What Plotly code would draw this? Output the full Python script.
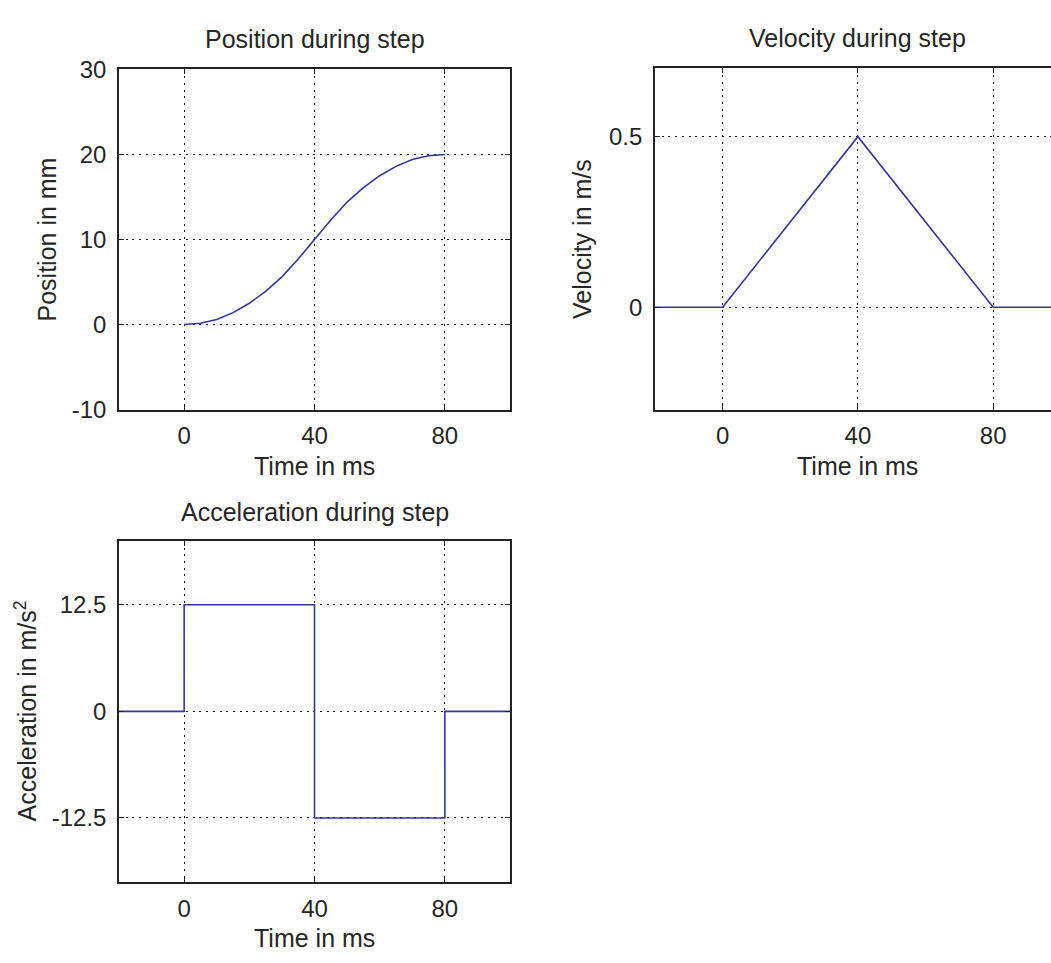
import plotly.graph_objects as go

# ---- data ----
pos_t = [0, 5, 10, 15, 20, 25, 30, 35, 40, 45, 50, 55, 60, 65, 70, 75, 80]
pos_mm = [0, 0.15, 0.6, 1.4, 2.5, 3.9, 5.6, 7.7, 10, 12.3, 14.4, 16.1, 17.5, 18.6, 19.4, 19.85, 20]

vel_t = [-20, 0, 40, 80, 100]
vel_ms = [0, 0, 0.5, 0, 0]

acc_t = [-20, 0, 0, 40, 40, 80, 80, 100]
acc_ms2 = [0, 0, 12.5, 12.5, -12.5, -12.5, 0, 0]

x_ticks = [0, 40, 80]
pos_yticks = [-10, 0, 10, 20, 30]
pos_ylabels = ["-10", "0", "10", "20", "30"]
vel_yticks = [0, 0.5]
vel_ylabels = ["0", "0.5"]
acc_yticks = [-12.5, 0, 12.5]
acc_ylabels = ["-12.5", "0", "12.5"]

LINE = "#36369e"
TXT = "#262626"
FONT = "Liberation Sans, Arial, sans-serif"
W, H = 1051, 963

def px_x(a, b):
    return [a / W, min(b / W, 1.0)]

def px_y(top, bottom):
    return [1 - bottom / H, 1 - top / H]

fig = go.Figure()
fig.add_trace(go.Scatter(x=pos_t, y=pos_mm, mode="lines", line=dict(color=LINE, width=1.6),
                         xaxis="x", yaxis="y", showlegend=False))
fig.add_trace(go.Scatter(x=vel_t, y=vel_ms, mode="lines", line=dict(color=LINE, width=1.6),
                         xaxis="x2", yaxis="y2", showlegend=False))
fig.add_trace(go.Scatter(x=acc_t, y=acc_ms2, mode="lines", line=dict(color=LINE, width=1.6),
                         xaxis="x3", yaxis="y3", showlegend=False))

GRID_DASH = "2px,4.7px"
common_x = dict(tickmode="array", tickvals=x_ticks, ticks="inside", ticklen=5, tickcolor="#222",
                showline=True, linecolor="#222", linewidth=1.6, mirror="ticks",
                showgrid=True, gridcolor="#111", griddash=GRID_DASH, gridwidth=1.2,
                zeroline=False, tickfont=dict(size=24, color=TXT, family=FONT),
                ticklabelstandoff=4)
common_y = dict(tickmode="array", ticks="inside", ticklen=5, tickcolor="#222",
                showline=True, linecolor="#222", linewidth=1.6, mirror="ticks",
                showgrid=True, gridcolor="#111", griddash=GRID_DASH, gridwidth=1.2,
                zeroline=False, tickfont=dict(size=24, color=TXT, family=FONT),
                ticklabelstandoff=6)

fig.update_layout(
    width=W, height=H,
    margin=dict(l=0, r=0, t=0, b=0),
    paper_bgcolor="white", plot_bgcolor="white",
    font=dict(family=FONT, color=TXT),
    xaxis=dict(common_x, domain=px_x(119, 510), range=[-20, 100], anchor="y"),
    yaxis=dict(common_y, domain=px_y(57, 407), range=[-10, 30], tickvals=pos_yticks,
               ticktext=pos_ylabels, anchor="x"),
    xaxis2=dict(common_x, domain=px_x(655, 1051), range=[-20, 97.1], anchor="y2"),
    yaxis2=dict(common_y, domain=px_y(56, 407), range=[-0.3, 0.7], tickvals=vel_yticks,
                ticktext=vel_ylabels, anchor="x2", mirror=False),
    xaxis3=dict(common_x, domain=px_x(119, 510), range=[-20, 100], anchor="y3"),
    yaxis3=dict(common_y, domain=px_y(542, 893), range=[-20, 20], tickvals=acc_yticks,
                ticktext=acc_ylabels, anchor="x3"),
)

ann = []
def title(xref, yref, text, yshift, x=0.5, size=25):
    ann.append(dict(xref=xref, yref=yref, x=x, y=1, text=text, showarrow=False,
                    yanchor="middle", yshift=yshift, font=dict(size=size, color=TXT, family=FONT)))

def xtitle(xref, yref, x=0.5):
    ann.append(dict(xref=xref, yref=yref, x=x, y=0, text="Time in ms", showarrow=False,
                    yanchor="middle", yshift=-56, font=dict(size=25, color=TXT, family=FONT)))

def ytitle(xref, yref, text, xshift):
    ann.append(dict(xref=xref, yref=yref, x=0, y=0.5, text=text, showarrow=False, textangle=-90,
                    xanchor="center", xshift=xshift, font=dict(size=25, color=TXT, family=FONT)))

title("x domain", "y domain", "Position during step", 30)
title("x2", "y2 domain", "Velocity during step", 30, x=40)
title("x3 domain", "y3 domain", "Acceleration during step", 29)
xtitle("x domain", "y domain")
xtitle("x2", "y2 domain", x=40)
xtitle("x3 domain", "y3 domain")
ytitle("x domain", "y domain", "Position in mm", -72)
ytitle("x2 domain", "y2 domain", "Velocity in m/s", -73)
ytitle("x3 domain", "y3 domain", "Acceleration in m/s<sup>2</sup>", -93)

fig.update_layout(annotations=ann)
fig.write_html("out.html")
